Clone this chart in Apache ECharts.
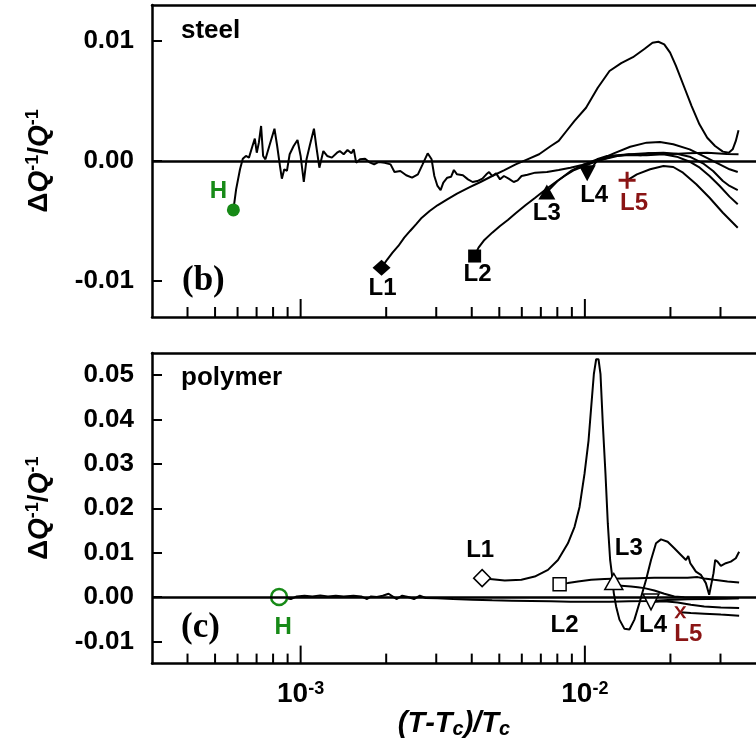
<!DOCTYPE html>
<html>
<head>
<meta charset="utf-8">
<script src="https://cdn.jsdelivr.net/npm/echarts@6/dist/echarts.min.js"></script>
<style>
  html, body { margin: 0; padding: 0; background: #fff; }
  #container { width: 756px; height: 740px; }
</style>
</head>
<body>
<div id="container"></div>
<script>
// x axis: (T-Tc)/Tc, log scale
const X_MIN = 3e-4;
const X_MAX = 4e-2;
const majorTicks = [1e-3, 1e-2];
const minorTicks = [4e-4, 5e-4, 6e-4, 7e-4, 8e-4, 9e-4,
  2e-3, 3e-3, 4e-3, 5e-3, 6e-3, 7e-3, 8e-3, 9e-3, 2e-2, 3e-2];

// y ranges and tick labels
const steelRange = [-0.013, 0.013];
const steelTicks = [-0.01, 0, 0.01];
const polyRange = [-0.015, 0.055];
const polyTicks = [-0.01, 0, 0.01, 0.02, 0.03, 0.04, 0.05];

const markerNames = ["H", "L1", "L2", "L3", "L4", "L5"];

// ---- panel (b): steel ----
const steelH = [
  [5.80e-4, -0.00408], [5.93e-4, -0.00236], [6.12e-4, -0.00069], [6.26e-4, 0.00019], [6.42e-4, 0.00042],
  [6.58e-4, 0.00028], [6.77e-4, 0.00125], [6.90e-4, 0.00186], [7.01e-4, 0.00069], [7.13e-4, 0.00153],
  [7.26e-4, 0.00292], [7.38e-4, 0.00042], [7.52e-4, 0.00014], [7.76e-4, 0.00125], [8.09e-4, 0.00269],
  [8.27e-4, 0.00125], [8.46e-4, -0.00042], [8.59e-4, -0.00147], [8.76e-4, -0.00069], [8.95e-4, -0.00083],
  [9.15e-4, 0.00056], [9.45e-4, 0.00125], [9.75e-4, 0.00175], [1.000e-3, 0.00042], [1.026e-3, -0.00175],
  [1.049e-3, 0.00014], [1.076e-3, 0.00125], [1.114e-3, 0.00269], [1.135e-3, 0.00125], [1.164e-3, -0.00056],
  [1.202e-3, 0.00083], [1.240e-3, 0.00042], [1.288e-3, 0.00028], [1.343e-3, 0.00069], [1.373e-3, 0.00083],
  [1.417e-3, 0.00056], [1.462e-3, 0.00092], [1.509e-3, 0.00064], [1.538e-3, 0.00097], [1.568e-3, -0.00014],
  [1.618e-3, 0.00014], [1.686e-3, 0.00019], [1.757e-3, -0.00014], [1.814e-3, -0.00028], [1.884e-3, -0.00008],
  [1.976e-3, -0.00014], [2.072e-3, -0.00028], [2.139e-3, -0.00092], [2.243e-3, -0.00083], [2.352e-3, -0.00119],
  [2.466e-3, -0.00139], [2.586e-3, -0.00111], [2.686e-3, -0.00028], [2.799e-3, 0.00064], [2.889e-3, 0.00014],
  [2.954e-3, -0.00125], [3.030e-3, -0.00208], [3.108e-3, -0.00242], [3.177e-3, -0.00181], [3.280e-3, -0.00139],
  [3.385e-3, -0.00131], [3.461e-3, -0.00075], [3.550e-3, -0.00111], [3.723e-3, -0.00119], [3.879e-3, -0.00153],
  [4.029e-3, -0.00175], [4.185e-3, -0.00167], [4.361e-3, -0.00147], [4.502e-3, -0.00111], [4.603e-3, -0.00092],
  [4.721e-3, -0.00125], [4.873e-3, -0.00103], [5.030e-3, -0.00153], [5.191e-3, -0.00125], [5.393e-3, -0.00147],
  [5.619e-3, -0.00175], [5.800e-3, -0.00161], [5.987e-3, -0.00125], [6.278e-3, -0.00114], [6.688e-3, -0.00097],
  [7.355e-3, -0.00092], [8.089e-3, -0.00075], [8.895e-3, -0.00056], [9.781e-3, -0.00033], [1.0756e-2, -0.00008],
  [1.1828e-2, 0.00019], [1.3007e-2, 0.00042], [1.4303e-2, 0.00056], [1.5731e-2, 0.00047], [1.6757e-2, 0.00064],
  [1.9632e-2, 0.00056], [2.3002e-2, 0.00064], [2.6948e-2, 0.00069], [3.1573e-2, 0.00058], [3.472e-2, 0.00056]
];
const steelL1 = [
  [1.926e-3, -0.00889], [2.020e-3, -0.00819], [2.105e-3, -0.00764], [2.207e-3, -0.00708], [2.315e-3, -0.00639],
  [2.427e-3, -0.00583], [2.546e-3, -0.00528], [2.669e-3, -0.00472], [2.844e-3, -0.00417], [3.030e-3, -0.00369],
  [3.280e-3, -0.00319], [3.550e-3, -0.00272], [3.904e-3, -0.00222], [4.293e-3, -0.00175], [4.721e-3, -0.00125],
  [5.191e-3, -0.00078], [5.709e-3, -0.00028], [6.278e-3, 0.00014], [6.903e-3, 0.00056], [7.592e-3, 0.00125],
  [8.089e-3, 0.00167], [8.617e-3, 0.0025], [9.180e-3, 0.00333], [1.0096e-2, 0.00444], [1.1102e-2, 0.00610],
  [1.2209e-2, 0.00750], [1.3425e-2, 0.00815], [1.4763e-2, 0.00865], [1.6235e-2, 0.00935], [1.7297e-2, 0.00986],
  [1.8139e-2, 0.00994], [1.9021e-2, 0.00972], [1.9946e-2, 0.00903], [2.0916e-2, 0.00792], [2.2285e-2, 0.00625],
  [2.3744e-2, 0.00458], [2.5296e-2, 0.00306], [2.6948e-2, 0.00194], [2.8712e-2, 0.00125], [3.0590e-2, 0.00078],
  [3.2083e-2, 0.00069], [3.3117e-2, 0.00097], [3.3967e-2, 0.00167], [3.472e-2, 0.00256]
];
const steelL2 = [
  [4.094e-3, -0.00792], [4.226e-3, -0.00722], [4.431e-3, -0.00658], [4.721e-3, -0.00597], [5.030e-3, -0.00542],
  [5.358e-3, -0.00492], [5.709e-3, -0.00436], [6.179e-3, -0.00369], [6.688e-3, -0.00306], [7.239e-3, -0.00242],
  [7.836e-3, -0.00181], [8.481e-3, -0.00125], [9.180e-3, -0.00075], [9.937e-3, -0.00042], [1.1031e-2, 0.0],
  [1.2641e-2, 0.00064], [1.4439e-2, 0.00119], [1.6493e-2, 0.00153], [1.8370e-2, 0.00158], [2.0459e-2, 0.00139],
  [2.3369e-2, 0.00097], [2.6025e-2, 0.00042], [2.8981e-2, -0.00014], [3.2286e-2, -0.00069], [3.450e-2, -0.00092]
];
const steelL3 = [
  [7.35e-3, -0.00258], [8.012e-3, -0.00167], [8.923e-3, -0.00083], [9.937e-3, -0.00028], [1.1031e-2, 0.00014],
  [1.1979e-2, 0.00042], [1.4439e-2, 0.00056], [1.6493e-2, 0.00064], [1.8901e-2, 0.00069], [2.1051e-2, 0.00061],
  [2.3369e-2, 0.00036], [2.6025e-2, -0.00019], [2.8256e-2, -0.00083], [3.0590e-2, -0.00167], [3.2286e-2, -0.00208],
  [3.450e-2, -0.00242]
];
const steelL4 = [
  [1.019e-2, -0.00103], [1.1031e-2, 0.0], [1.2641e-2, 0.00042], [1.4439e-2, 0.0005], [1.6493e-2, 0.00047],
  [1.8901e-2, 0.00056], [2.1051e-2, 0.00036], [2.3369e-2, -0.00006], [2.537e-2, -0.00056], [2.746e-2, -0.00125],
  [2.982e-2, -0.00208], [3.2286e-2, -0.00297], [3.450e-2, -0.00361]
];
const steelL5 = [
  [1.408e-2, -0.00161], [1.5238e-2, -0.00111], [1.6971e-2, -0.00069], [1.8901e-2, -0.00042], [2.0459e-2, -0.0005],
  [2.2144e-2, -0.00097], [2.466e-2, -0.00194], [2.746e-2, -0.00306], [3.0590e-2, -0.00431], [3.450e-2, -0.00556]
];
const steelMarkers = [
  [5.80e-4, -0.00408], [1.926e-3, -0.00889], [4.094e-3, -0.00792],
  [7.35e-3, -0.00258], [1.019e-2, -0.00103], [1.408e-2, -0.00161]
];

// ---- panel (c): polymer ----
const polyH = [
  [8.40e-4, 0], [9.24e-4, -0.00045], [9.69e-4, 0.00015], [1.032e-3, 0.0003], [1.100e-3, 0.00015],
  [1.172e-3, 0.00037], [1.248e-3, 0.00015], [1.330e-3, 0.0003], [1.417e-3, 0.00015], [1.534e-3, 0.0003],
  [1.634e-3, 0.00015], [1.713e-3, -0.00045], [1.769e-3, 0.00015], [1.855e-3, 0.0], [1.945e-3, 0.0003],
  [2.039e-3, 0.00075], [2.105e-3, 0.00015], [2.173e-3, -0.00045], [2.278e-3, 0.0003], [2.389e-3, 0.0],
  [2.506e-3, -0.00045], [2.627e-3, 0.0003], [2.755e-3, -0.00022], [3.030e-3, -0.0003], [3.439e-3, -0.00045],
  [4.029e-3, -0.0006], [4.721e-3, -0.00075], [5.531e-3, -0.00082], [6.480e-3, -0.0009], [7.592e-3, -0.00097],
  [8.895e-3, -0.00105], [1.0420e-2, -0.00105], [1.2209e-2, -0.00105], [1.4303e-2, -0.00097], [1.6757e-2, -0.0009],
  [1.9632e-2, -0.00067], [2.3002e-2, -0.00052], [2.6948e-2, -0.00045], [3.1573e-2, -0.00037], [3.472e-2, -0.0003]
];
const polyL1 = [
  [4.351e-3, 0.00426], [4.630e-3, 0.00404], [5.226e-3, 0.00372], [5.978e-3, 0.00388], [6.661e-3, 0.00462],
  [7.417e-3, 0.00612], [8.042e-3, 0.00836], [8.718e-3, 0.01211], [9.199e-3, 0.01583], [9.579e-3, 0.02031],
  [9.973e-3, 0.0278], [1.0302e-2, 0.03527], [1.0524e-2, 0.04274], [1.0754e-2, 0.05022], [1.0959e-2, 0.05359],
  [1.1168e-2, 0.05359], [1.1350e-2, 0.05022], [1.1565e-2, 0.0390], [1.1817e-2, 0.0278], [1.2042e-2, 0.01659],
  [1.2271e-2, 0.00836], [1.2437e-2, 0.00538], [1.2641e-2, 0.0009], [1.2879e-2, -0.00211], [1.3232e-2, -0.00509],
  [1.3779e-2, -0.00717], [1.4348e-2, -0.00733], [1.4940e-2, -0.00509], [1.5556e-2, -0.00135], [1.6416e-2, 0.00388],
  [1.7090e-2, 0.00836], [1.7795e-2, 0.01211], [1.8530e-2, 0.013], [1.9556e-2, 0.01247], [2.0639e-2, 0.01099],
  [2.1779e-2, 0.00949], [2.2678e-2, 0.00836], [2.3110e-2, 0.00926], [2.3486e-2, 0.00762], [2.3929e-2, 0.00686],
  [2.4582e-2, 0.00574], [2.5594e-2, 0.005], [2.6648e-2, 0.00314], [2.7378e-2, 0.00052], [2.7751e-2, 0.00013],
  [2.8353e-2, 0.00538], [2.8740e-2, 0.00836], [2.9288e-2, 0.00798], [3.0088e-2, 0.00702], [3.1329e-2, 0.00762],
  [3.2621e-2, 0.00798], [3.3963e-2, 0.00874], [3.489e-2, 0.01022]
];
const polyL2 = [
  [8.150e-3, 0.00291], [8.718e-3, 0.00314], [9.450e-3, 0.00352], [1.0524e-2, 0.00388], [1.1722e-2, 0.00404],
  [1.3414e-2, 0.00419], [1.5350e-2, 0.00426], [1.7557e-2, 0.00434], [2.0088e-2, 0.00434], [2.2982e-2, 0.00434],
  [2.4918e-2, 0.00449], [2.6298e-2, 0.00419], [2.8515e-2, 0.00388], [3.1755e-2, 0.00352], [3.489e-2, 0.00329]
];
const polyL3 = [
  [1.2641e-2, 0.0035], [1.3414e-2, 0.00253], [1.454e-2, 0.00238], [1.5350e-2, 0.00223], [1.6198e-2, 0.00201],
  [1.7557e-2, 0.00148], [1.9035e-2, 0.00073], [2.0639e-2, 0.00013], [2.2375e-2, -0.00002], [2.6298e-2, -0.0001],
  [3.489e-2, -0.00025]
];
const polyL4 = [
  [1.709e-2, -0.0011], [1.9035e-2, -0.00097], [2.120e-2, -0.00121], [2.361e-2, -0.00173], [2.6298e-2, -0.00211],
  [3.0088e-2, -0.00233], [3.489e-2, -0.00248]
];
const polyL5 = [
  [2.1666e-2, -0.00345], [2.361e-2, -0.00359], [2.6298e-2, -0.00374], [3.0088e-2, -0.00396], [3.489e-2, -0.00419]
];
const polyMarkers = [
  [8.40e-4, 0], [4.351e-3, 0.00426], [8.150e-3, 0.00291],
  [1.2641e-2, 0.0035], [1.709e-2, -0.0011], [2.1666e-2, -0.00345]
];

const FONT = "'Liberation Sans', Arial, sans-serif";
const SERIF = "'Liberation Serif', 'Times New Roman', serif";
const GREEN = "#178a17";
const DARKRED = "#8a1414";
const PLUS = "path://M7,0h3v7h7v3h-7v7h-3v-7h-7v-3h7z";
const CROSS = "path://M0,0h3l3,4.5l3,-4.5h3l-4.5,6l4.5,6h-3l-3,-4.5l-3,4.5h-3l4.5,-6z";

const chart = echarts.init(document.getElementById("container"));

const axisLineStyle = { color: "#000", width: 2.5 };

function logXAxis(gridIndex, withLabels) {
  return {
    type: "log",
    logBase: 10,
    gridIndex: gridIndex,
    min: X_MIN,
    max: X_MAX,
    axisLine: { onZero: false, lineStyle: axisLineStyle },
    axisTick: { show: false },
    splitLine: { show: false },
    axisLabel: {
      show: withLabels,
      margin: 16,
      showMinLabel: false,
      showMaxLabel: false,
      formatter: function (v) {
        const e = Math.round(Math.log10(v));
        if (Math.abs(v / Math.pow(10, e) - 1) > 1e-6) return "";
        return "{b|10}{s|" + e + "}";
      },
      rich: {
        b: { fontSize: 28, fontWeight: "bold", fontFamily: FONT, color: "#000", lineHeight: 30 },
        s: { fontSize: 18, fontWeight: "bold", fontFamily: FONT, color: "#000", lineHeight: 17, verticalAlign: "top" }
      }
    },
    name: withLabels ? "{i|(T}{i|-T}{c|c}{i|)/T}{c|c}" : "",
    nameLocation: "middle",
    nameGap: 40,
    nameTextStyle: {
      rich: {
        i: { fontSize: 29, fontWeight: "bold", fontStyle: "italic", fontFamily: FONT, color: "#000", lineHeight: 30 },
        c: { fontSize: 20, fontWeight: "bold", fontStyle: "italic", fontFamily: FONT, color: "#000", lineHeight: 14, verticalAlign: "bottom" }
      }
    }
  };
}

function frameTop(gridIndex) {
  return {
    type: "value", gridIndex: gridIndex, position: "top", min: 0, max: 1,
    axisLine: { show: true, onZero: false, lineStyle: axisLineStyle },
    axisTick: { show: false }, axisLabel: { show: false }, splitLine: { show: false }
  };
}

function yAxisCfg(gridIndex, range, ticks) {
  return {
    type: "value",
    gridIndex: gridIndex,
    min: range[0],
    max: range[1],
    axisLine: { show: true, onZero: false, lineStyle: axisLineStyle },
    axisTick: { show: true, inside: true, length: 10, customValues: ticks, lineStyle: { color: "#000", width: 2 } },
    axisLabel: {
      customValues: ticks,
      formatter: function (v) { return v.toFixed(2); },
      margin: 18, color: "#000", fontSize: 26, fontWeight: "bold", fontFamily: FONT
    },
    splitLine: { show: false },
    name: "{n|\u0394}{q|Q}{s|-1}{n|/}{q|Q}{s|-1}",
    nameLocation: "middle",
    nameRotate: 90,
    nameGap: 98,
    nameTextStyle: {
      rich: {
        n: { fontSize: 28, fontWeight: "bold", fontFamily: FONT, color: "#000", lineHeight: 30 },
        q: { fontSize: 28, fontWeight: "bold", fontStyle: "italic", fontFamily: FONT, color: "#000", lineHeight: 30 },
        s: { fontSize: 18, fontWeight: "bold", fontFamily: FONT, color: "#000", lineHeight: 16, verticalAlign: "top" }
      }
    }
  };
}

function curve(data, xi, yi, withZero) {
  const s = {
    type: "line", xAxisIndex: xi, yAxisIndex: yi, data: data,
    showSymbol: false, silent: true, z: 2,
    lineStyle: { color: "#000", width: 2 }
  };
  if (withZero) {
    s.markLine = {
      silent: true, symbol: ["none", "none"], label: { show: false },
      lineStyle: { color: "#000", width: 2.5, type: "solid" },
      data: [{ yAxis: 0 }]
    };
  }
  return s;
}

function tickSeries(xi, yi, vals, yBase, len) {
  return {
    type: "custom", xAxisIndex: xi, yAxisIndex: yi, silent: true, z: 5, clip: false,
    data: vals.map(function (v) { return [v, yBase]; }),
    renderItem: function (params, api) {
      const p = api.coord([api.value(0), api.value(1)]);
      return {
        type: "line",
        shape: { x1: p[0], y1: p[1], x2: p[0], y2: p[1] - len },
        style: { stroke: "#000", lineWidth: 2 }
      };
    }
  };
}

function lbl(text, color, offset) {
  return {
    show: true, position: "inside", formatter: text, offset: offset,
    color: color, fontSize: 24, fontWeight: "bold", fontFamily: FONT, textBorderWidth: 0
  };
}

// marker looks: symbol, size, rotation, label colour, label offset
const steelLook = [
  { symbol: "circle", size: 13, rot: 0, fill: GREEN, stroke: GREEN, color: GREEN, off: [-15, -19] },
  { symbol: "diamond", size: [18, 16], rot: 0, fill: "#000", stroke: "#000", color: "#000", off: [1, 21] },
  { symbol: "rect", size: 13, rot: 0, fill: "#000", stroke: "#000", color: "#000", off: [3, 18] },
  { symbol: "triangle", size: [17, 15], rot: 0, fill: "#000", stroke: "#000", color: "#000", off: [0, 21] },
  { symbol: "triangle", size: [17, 16], rot: 180, fill: "#000", stroke: "#000", color: "#000", off: [7, 22] },
  { symbol: PLUS, size: 17, rot: 0, fill: DARKRED, stroke: DARKRED, color: DARKRED, off: [7, 23] }
];
const polyLook = [
  { symbol: "circle", size: 16, rot: 0, fill: "#fff", stroke: GREEN, color: GREEN, off: [4, 30], bw: 2.5 },
  { symbol: "diamond", size: [17, 17], rot: 0, fill: "#fff", stroke: "#000", color: "#000", off: [-2, -28], bw: 1.5 },
  { symbol: "rect", size: 13, rot: 0, fill: "#fff", stroke: "#000", color: "#000", off: [5, 41], bw: 1.5 },
  { symbol: "triangle", size: [18, 16], rot: 0, fill: "#fff", stroke: "#000", color: "#000", off: [15, -33], bw: 1.5 },
  { symbol: "triangle", size: [16, 16], rot: 180, fill: "#fff", stroke: "#000", color: "#000", off: [2, 23], bw: 1.5 },
  { symbol: CROSS, size: 12, rot: 0, fill: DARKRED, stroke: DARKRED, color: DARKRED, off: [8, 22], bw: 0 }
];

function markerSeries(xi, yi, points, looks) {
  return {
    type: "scatter", xAxisIndex: xi, yAxisIndex: yi, silent: true, z: 4,
    data: points.map(function (p, i) {
      const k = looks[i];
      return {
        value: p,
        symbol: k.symbol,
        symbolSize: k.size,
        symbolRotate: k.rot,
        itemStyle: { color: k.fill, borderColor: k.stroke, borderWidth: k.bw || 0, opacity: 1 },
        label: lbl(markerNames[i], k.color, k.off)
      };
    })
  };
}

const option = {
  animation: false,
  backgroundColor: "#fff",
  grid: [
    { left: 152, top: 5, width: 606, height: 312 },
    { left: 152, top: 353, width: 606, height: 312 }
  ],
  xAxis: [logXAxis(0, false), frameTop(0), logXAxis(1, true), frameTop(1)],
  yAxis: [yAxisCfg(0, steelRange, steelTicks), yAxisCfg(1, polyRange, polyTicks)],
  graphic: [
    { type: "text", x: 181, y: 31, style: { text: "steel", fontSize: 26, fontWeight: "bold", fontFamily: FONT, fill: "#000", verticalAlign: "middle" } },
    { type: "text", x: 182, y: 281, style: { text: "(b)", fontSize: 35, fontWeight: "bold", fontFamily: SERIF, fill: "#000", verticalAlign: "middle" } },
    { type: "text", x: 181, y: 378, style: { text: "polymer", fontSize: 26, fontWeight: "bold", fontFamily: FONT, fill: "#000", verticalAlign: "middle" } },
    { type: "text", x: 181, y: 628, style: { text: "(c)", fontSize: 35, fontWeight: "bold", fontFamily: SERIF, fill: "#000", verticalAlign: "middle" } }
  ],
  series: [
    curve(steelH, 0, 0, true),
    curve(steelL1, 0, 0),
    curve(steelL2, 0, 0),
    curve(steelL3, 0, 0),
    curve(steelL4, 0, 0),
    curve(steelL5, 0, 0),
    markerSeries(0, 0, steelMarkers, steelLook),
    tickSeries(0, 0, majorTicks, steelRange[0], 18),
    tickSeries(0, 0, minorTicks, steelRange[0], 10),

    curve(polyH, 2, 1, true),
    curve(polyL1, 2, 1),
    curve(polyL2, 2, 1),
    curve(polyL3, 2, 1),
    curve(polyL4, 2, 1),
    curve(polyL5, 2, 1),
    markerSeries(2, 1, polyMarkers, polyLook),
    tickSeries(2, 1, majorTicks, polyRange[0], 18),
    tickSeries(2, 1, minorTicks, polyRange[0], 10)
  ]
};

chart.setOption(option);
</script>
</body>
</html>
